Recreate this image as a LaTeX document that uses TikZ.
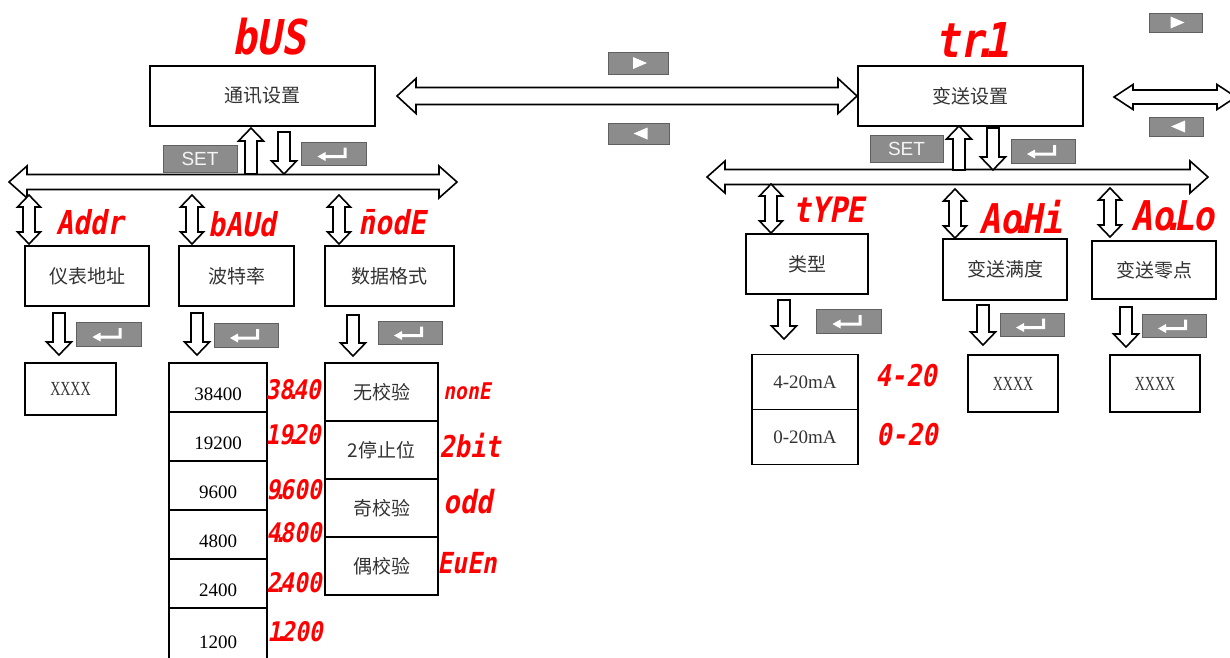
\documentclass[tikz,border=0pt]{standalone}
\usepackage{fontspec}
\usetikzlibrary{calc}
\setmainfont{Liberation Serif}
\newfontfamily\cjk{Noto Sans CJK SC}
\newfontfamily\keyfont{Liberation Sans}
\newfontfamily\segfont[FakeSlant=0.18,FakeStretch=0.85]{DejaVu Sans Mono}
\newfontfamily\narrowserif[FakeStretch=0.7]{Liberation Serif}
\newcommand{\segdot}{\makebox[0pt]{.}}
\definecolor{keyGray}{RGB}{140,140,140}
\definecolor{keyEdge}{RGB}{96,96,96}
\definecolor{textGray}{RGB}{51,51,51}
\tikzstyle{menuBox}=[draw, line width=1.8pt, inner sep=0pt, text=textGray, font=\cjk\fontsize{19}{19}\selectfont]
\tikzstyle{baudRow}=[draw, line width=1.8pt, inner sep=0pt, minimum width=98pt, minimum height=49pt, text height=26pt, font=\fontsize{19}{19}\selectfont]
\tikzstyle{typeRow}=[draw, line width=1.8pt, inner sep=0pt, minimum width=106pt, minimum height=55pt, text=textGray, font=\fontsize{19}{19}\selectfont]
\tikzstyle{valueBox}=[draw, line width=1.8pt, inner sep=0pt, text=textGray, font=\narrowserif\fontsize{20}{20}\selectfont]
\tikzstyle{keyBox}=[draw=keyEdge, fill=keyGray, line width=0.8pt, inner sep=0pt]
\tikzstyle{hollow}=[draw, fill=white, line width=1.6pt, line join=miter]
\tikzset{
  segText/.style={text=red, inner sep=0pt, font=\segfont\bfseries\fontsize{#1}{#1}\selectfont},
  setKey/.style={keyBox, text=white!92!gray, font=\keyfont\fontsize{19}{19}\selectfont},
  enterKey/.style={keyBox, path picture={\fill[white] ($(path picture bounding box.center)+(-16,3)$) -- ++(8,-4.5) -- ++(0,3) -- ++(18,0) -- ++(0,-7.5) -- ++(3,0) -- ++(0,10.5) -- ++(-21,0) -- ++(0,3) -- cycle;}},
  rightKey/.style={keyBox, path picture={\fill[white] ($(path picture bounding box.center)+(-5,-6)$) -- ++(0,12) -- ++(14,-6) -- cycle;}},
  leftKey/.style={keyBox, path picture={\fill[white] ($(path picture bounding box.center)+(9,-6)$) -- ++(0,12) -- ++(-14,-6) -- cycle;}},
  oneWay/.style n args={3}{to path={
    ($(\tikztostart)!#1!90:(\tikztotarget)$)
    -- ($(\tikztotarget)!#3!(\tikztostart)!#1!-90:(\tikztostart)$)
    -- ($(\tikztotarget)!#3!(\tikztostart)!#2!-90:(\tikztostart)$)
    -- (\tikztotarget)
    -- ($(\tikztotarget)!#3!(\tikztostart)!#2!90:(\tikztostart)$)
    -- ($(\tikztotarget)!#3!(\tikztostart)!#1!90:(\tikztostart)$)
    -- ($(\tikztostart)!#1!-90:(\tikztotarget)$)
    -- cycle}},
  twoWay/.style n args={3}{to path={
    (\tikztostart)
    -- ($(\tikztostart)!#3!(\tikztotarget)!#2!90:(\tikztotarget)$)
    -- ($(\tikztostart)!#3!(\tikztotarget)!#1!90:(\tikztotarget)$)
    -- ($(\tikztotarget)!#3!(\tikztostart)!#1!-90:(\tikztostart)$)
    -- ($(\tikztotarget)!#3!(\tikztostart)!#2!-90:(\tikztostart)$)
    -- (\tikztotarget)
    -- ($(\tikztotarget)!#3!(\tikztostart)!#2!90:(\tikztostart)$)
    -- ($(\tikztotarget)!#3!(\tikztostart)!#1!90:(\tikztostart)$)
    -- ($(\tikztostart)!#3!(\tikztotarget)!#1!-90:(\tikztotarget)$)
    -- ($(\tikztostart)!#3!(\tikztotarget)!#2!-90:(\tikztotarget)$)
    -- cycle}},
  bigWay/.style={hollow, twoWay={8.5pt}{17.5pt}{19pt}},
  busWay/.style={hollow, twoWay={7.5pt}{16pt}{18pt}},
  sideWay/.style={hollow, twoWay={7pt}{12.5pt}{19pt}},
  upDown/.style={hollow, twoWay={6pt}{11.5pt}{12pt}},
  pointer/.style={hollow, oneWay={6pt}{12.5pt}{13pt}}
}

\begin{document}
\begin{tikzpicture}[x=1pt, y=-1pt]
\useasboundingbox[fill=white] (0,0) rectangle (1230,657);
% Start left
\node[segText=48] (busTitle) at (269,37) {bUS};
\node[menuBox, minimum width=225pt, minimum height=60pt] (busMenu) at (262.5,96) {通讯设置};
\node[setKey, minimum width=74pt, minimum height=27pt] (busSet) at (200,158.5) {SET};
\node[enterKey, minimum width=65pt, minimum height=23pt] (busEnter) at (333.5,153.5) {};
\node[segText=33] (addrCode) at (90,222) {Addr};
\node[segText=33] (baudCode) at (242,224) {bAUd};
\node[segText=33] (fmtCode) at (392,222) {\={n}odE};
\node[menuBox, minimum width=124pt, minimum height=60pt] (addrMenu) at (87,276) {仪表地址};
\node[menuBox, minimum width=115pt, minimum height=60pt] (baudMenu) at (236.5,276) {波特率};
\node[menuBox, minimum width=129pt, minimum height=60pt] (fmtMenu) at (389.5,276) {数据格式};
\node[enterKey, minimum width=65pt, minimum height=24pt] (addrEnter) at (108.5,334) {};
\node[enterKey, minimum width=64pt, minimum height=24pt] (baudEnter) at (246,335) {};
\node[enterKey, minimum width=64pt, minimum height=23pt] (fmtEnter) at (410,332.5) {};
\node[valueBox, minimum width=91pt, minimum height=52pt] (addrValue) at (70.5,389) {XXXX};
\node[baudRow] (baud1) at (218,387.5) {38400};
\node[baudRow] (baud2) at (218,436.5) {19200};
\node[baudRow] (baud3) at (218,485.5) {9600};
\node[baudRow] (baud4) at (218,534.5) {4800};
\node[baudRow] (baud5) at (218,583.5) {2400};
\node[baudRow, minimum height=56pt] (baud6) at (218,636) {1200};
\node[segText=27] (baudCode1) at (293,390) {38\segdot40};
\node[segText=27] (baudCode2) at (293,435) {19\segdot20};
\node[segText=27] (baudCode3) at (294,490) {9\segdot600};
\node[segText=27] (baudCode4) at (294,533) {4\segdot800};
\node[segText=27] (baudCode5) at (294,583) {2\segdot400};
\node[segText=27] (baudCode6) at (295,632) {1\segdot200};
\node[menuBox, minimum width=113pt, minimum height=58pt] (fmt1) at (381.5,392) {无校验};
\node[menuBox, minimum width=113pt, minimum height=58pt] (fmt2) at (381.5,450) {2停止位};
\node[menuBox, minimum width=113pt, minimum height=58pt] (fmt3) at (381.5,508) {奇校验};
\node[menuBox, minimum width=113pt, minimum height=58pt] (fmt4) at (381.5,566) {偶校验};
\node[segText=23] (fmtCode1) at (467,391) {nonE};
\node[segText=30] (fmtCode2) at (470,446) {2bit};
\node[segText=32] (fmtCode3) at (468,502) {odd};
\node[segText=29] (fmtCode4) at (467,563) {EuEn};
% Start middle
\node[rightKey, minimum width=60pt, minimum height=22pt] (nextKey) at (638,63) {};
\node[leftKey, minimum width=61pt, minimum height=21pt] (backKey) at (638.5,133.5) {};
% Start right
\node[segText=48] (trTitle) at (972,40) {tr\segdot1};
\node[menuBox, minimum width=225pt, minimum height=60pt] (trMenu) at (970.5,96) {变送设置};
\node[rightKey, minimum width=53pt, minimum height=19pt] (nextKeyR) at (1175.5,22.5) {};
\node[leftKey, minimum width=54pt, minimum height=19pt] (backKeyR) at (1176,126.5) {};
\node[setKey, minimum width=73pt, minimum height=27pt] (trSet) at (906.5,148.5) {SET};
\node[enterKey, minimum width=64pt, minimum height=24pt] (trEnter) at (1043,151) {};
\node[segText=35] (typeCode) at (829,210) {tYPE};
\node[segText=41] (fullCode) at (1021,217) {Ao\segdot Hi};
\node[segText=41] (zeroCode) at (1173,216) {Ao\segdot Lo};
\node[menuBox, minimum width=122pt, minimum height=60pt] (typeMenu) at (807,264) {类型};
\node[menuBox, minimum width=124pt, minimum height=61pt] (fullMenu) at (1005,269.5) {变送满度};
\node[menuBox, minimum width=124pt, minimum height=58pt] (zeroMenu) at (1154,270) {变送零点};
\node[enterKey, minimum width=65pt, minimum height=24pt] (typeEnter) at (848.5,321) {};
\node[enterKey, minimum width=64pt, minimum height=23pt] (fullEnter) at (1032,324.5) {};
\node[enterKey, minimum width=64pt, minimum height=23pt] (zeroEnter) at (1174,325.5) {};
\node[typeRow] (type1) at (805,382) {4-20mA};
\node[typeRow] (type2) at (805,437) {0-20mA};
\node[segText=30] (typeCode1) at (906,376) {4-20};
\node[segText=30] (typeCode2) at (907,435) {0-20};
\node[valueBox, minimum width=90pt, minimum height=57pt] (fullValue) at (1013,383.5) {XXXX};
\node[valueBox, minimum width=90pt, minimum height=57pt] (zeroValue) at (1155,383.5) {XXXX};
% arrow ends
\coordinate (busOut) at (397,96);
\coordinate (trIn) at (857,96);
\coordinate (trOut) at (1114,97);
\coordinate (trOff) at (1236,97);
\coordinate (busLeft) at (9,182);
\coordinate (busRight) at (457,182);
\coordinate (trLeft) at (707,177);
\coordinate (trRight) at (1208,177);
\coordinate (busUpA) at (251,174);
\coordinate (busUpB) at (251,128);
\coordinate (busDownA) at (284,132);
\coordinate (busDownB) at (284,174);
\coordinate (trUpA) at (959,170);
\coordinate (trUpB) at (959,126);
\coordinate (trDownA) at (993,128);
\coordinate (trDownB) at (993,170);
\coordinate (addrA) at (29,195);
\coordinate (addrB) at (29,244);
\coordinate (baudA) at (192,195);
\coordinate (baudB) at (192,244);
\coordinate (fmtA) at (339,195);
\coordinate (fmtB) at (339,244);
\coordinate (typeA) at (771,184);
\coordinate (typeB) at (771,233);
\coordinate (fullA) at (955,189);
\coordinate (fullB) at (955,238);
\coordinate (zeroA) at (1110,188);
\coordinate (zeroB) at (1110,237);
\coordinate (addrDownA) at (59,313);
\coordinate (addrDownB) at (59,355);
\coordinate (baudDownA) at (197,313);
\coordinate (baudDownB) at (197,355);
\coordinate (fmtDownA) at (353,315);
\coordinate (fmtDownB) at (353,356);
\coordinate (typeDownA) at (784,300);
\coordinate (typeDownB) at (784,339);
\coordinate (fullDownA) at (983,305);
\coordinate (fullDownB) at (983,345);
\coordinate (zeroDownA) at (1126,307);
\coordinate (zeroDownB) at (1126,347);
% arrows
\draw[bigWay] (busOut) to (trIn);
\draw[sideWay] (trOut) to (trOff);
\draw[busWay] (busLeft) to (busRight);
\draw[busWay] (trLeft) to (trRight);
\draw[pointer] (busUpA) to (busUpB);
\draw[pointer] (busDownA) to (busDownB);
\draw[pointer] (trUpA) to (trUpB);
\draw[pointer] (trDownA) to (trDownB);
\draw[upDown] (addrA) to (addrB);
\draw[upDown] (baudA) to (baudB);
\draw[upDown] (fmtA) to (fmtB);
\draw[upDown] (typeA) to (typeB);
\draw[upDown] (fullA) to (fullB);
\draw[upDown] (zeroA) to (zeroB);
\draw[pointer] (addrDownA) to (addrDownB);
\draw[pointer] (baudDownA) to (baudDownB);
\draw[pointer] (fmtDownA) to (fmtDownB);
\draw[pointer] (typeDownA) to (typeDownB);
\draw[pointer] (fullDownA) to (fullDownB);
\draw[pointer] (zeroDownA) to (zeroDownB);
\end{tikzpicture}
\end{document}
